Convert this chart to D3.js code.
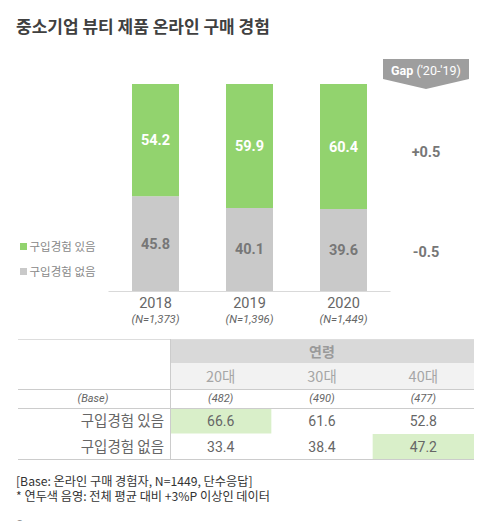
<!DOCTYPE html>
<html><head><meta charset="utf-8">
<script src="https://cdn.jsdelivr.net/npm/d3@7"></script>
<style>
body{margin:0;background:#fff;}
svg{display:block;font-family:Roboto,"Noto Sans CJK KR",sans-serif;}
.kr{font-family:"Noto Sans CJK KR",Roboto,sans-serif;}
</style></head>
<body>
<script>
// ---- data ----
const years = ["2018", "2019", "2020"];
const sampleN = ["(N=1,373)", "(N=1,396)", "(N=1,449)"];
const seriesNames = ["구입경험 있음", "구입경험 없음"];
const yesValues = [54.2, 59.9, 60.4];
const noValues = [45.8, 40.1, 39.6];
const gapLabels = ["+0.5", "-0.5"];
const gapTitle = "('20-'19)";
const ageGroups = ["20대", "30대", "40대"];
const ageBases = ["(482)", "(490)", "(477)"];
const tableYes = [66.6, 61.6, 52.8];
const tableNo = [33.4, 38.4, 47.2];
const highlightYes = [true, false, false];
const highlightNo = [false, false, true];
const footnotes = ["[Base: 온라인 구매 경험자, N=1449, 단수응답]", "* 연두색 음영: 전체 평균 대비 +3%P 이상인 데이터"];

const W = 500, H = 521;
const GREEN = "#92d36e", GRAY = "#c9c9c9";
const svg = d3.select("body").append("svg").attr("width", W).attr("height", H);

// title
svg.append("text").attr("class","kr").attr("x",16).attr("y",33)
  .attr("font-size",17).attr("font-weight",700).attr("fill","#404040")
  .text("중소기업 뷰티 제품 온라인 구매 경험");

// scales
const x = d3.scaleBand().domain(years).range([108.5, 390.5]).paddingInner(0.5).paddingOuter(0.25);
const y = d3.scaleLinear().domain([0, 100]).range([291, 84]);

const stackData = years.map((yr, i) => ({year: yr, yes: yesValues[i], no: noValues[i]}));
const stack = d3.stack().keys(["no", "yes"])(stackData);
const colors = {no: GRAY, yes: GREEN};

const g = svg.append("g");
stack.forEach(layer => {
  g.selectAll(null).data(layer).join("rect")
    .attr("x", d => x(d.data.year)).attr("width", x.bandwidth())
    .attr("y", d => y(d[1])).attr("height", d => y(d[0]) - y(d[1]))
    .attr("fill", colors[layer.key]);
  g.selectAll(null).data(layer).join("text")
    .attr("x", d => x(d.data.year) + x.bandwidth()/2)
    .attr("y", d => (y(d[0]) + y(d[1]))/2 + 5)
    .attr("text-anchor","middle").attr("font-size",14.5).attr("font-weight",700)
    .attr("fill", layer.key === "yes" ? "#fff" : "#777")
    .text(d => (d[1]-d[0]).toFixed(1));
});

// axis baseline + year labels
const xAxis = d3.axisBottom(x).tickSize(0).tickPadding(7);
const ax = svg.append("g").attr("transform","translate(0,291)").call(xAxis);
ax.select(".domain").attr("stroke","#d9d9d9").attr("d","M108.5,0.5H390.5");
ax.selectAll(".tick text").attr("font-size",14.5).attr("fill","#666").attr("font-family","Roboto,sans-serif");
svg.selectAll(null).data(years).join("text")
  .attr("x", d => x(d) + x.bandwidth()/2).attr("y", 323)
  .attr("text-anchor","middle").attr("font-size",11.3).attr("font-style","italic").attr("fill","#666")
  .text((d,i) => sampleN[i]);

// legend
seriesNames.forEach((nm, i) => {
  const ly = 247 + i*25;
  svg.append("rect").attr("x",20).attr("y",ly-4).attr("width",7).attr("height",7).attr("fill", i===0?GREEN:GRAY);
  svg.append("text").attr("class","kr").attr("x",29.5).attr("y",ly+4).attr("font-size",11.5).attr("fill","#888").text(nm);
});

// gap badge
const gx0 = 383, gx1 = 469, gy0 = 59, gy1 = 79, gtip = 89;
svg.append("path").attr("d", `M${gx0},${gy0}H${gx1}V${gy1}L${(gx0+gx1)/2},${gtip}L${gx0},${gy1}Z`).attr("fill","#9e9e9e");
const gt = svg.append("text").attr("x",(gx0+gx1)/2).attr("y",75).attr("text-anchor","middle").attr("font-size",12.5).attr("fill","#fff");
gt.append("tspan").attr("font-weight",700).text("Gap ");
gt.append("tspan").text(gapTitle);
const last = stackData.length - 1;
const gapYs = [(y(noValues[last]) + y(100))/2 + 5, (y(0) + y(noValues[last]))/2 + 2];
gapLabels.forEach((t, i) => {
  svg.append("text").attr("x",426).attr("y",gapYs[i]+5).attr("text-anchor","middle")
    .attr("font-size",14.5).attr("font-weight",700).attr("fill","#777").text(t);
});

// separator
svg.append("line").attr("x1",18).attr("x2",474).attr("y1",339.5).attr("y2",339.5).attr("stroke","#ddd");

// table
const colX = d3.scaleBand().domain(ageGroups).range([170, 474]);
const tL = 18, tR = 474;
svg.append("rect").attr("x",170).attr("y",340).attr("width",304).attr("height",23).attr("fill","#d9d9d9");
svg.append("rect").attr("x",170).attr("y",363).attr("width",304).attr("height",26).attr("fill","#f2f2f2");
svg.append("text").attr("class","kr").attr("x",322).attr("y",357).attr("text-anchor","middle")
  .attr("font-size",14).attr("font-weight",700).attr("fill","#9a9a9a").text("연령");
ageGroups.forEach((a, i) => {
  svg.append("text").attr("class","kr").attr("x",colX(a)+colX.bandwidth()/2).attr("y",382).attr("text-anchor","middle")
    .attr("font-size",14.5).attr("fill","#a6a6a6").text(a);
  svg.append("text").attr("x",colX(a)+colX.bandwidth()/2).attr("y",402).attr("text-anchor","middle")
    .attr("font-size",11).attr("font-style","italic").attr("fill","#666").text(ageBases[i]);
});
svg.append("text").attr("x",93).attr("y",402).attr("text-anchor","middle")
  .attr("font-size",11).attr("font-style","italic").attr("fill","#666").text("(Base)");

const rows = [{name: seriesNames[0], vals: tableYes, hl: highlightYes, y0: 408},
              {name: seriesNames[1], vals: tableNo, hl: highlightNo, y0: 434}];
rows.forEach(r => {
  r.vals.forEach((v, i) => {
    if (r.hl[i]) svg.append("rect").attr("x",colX(ageGroups[i])).attr("y",r.y0).attr("width",colX.bandwidth()).attr("height",25.5).attr("fill","#d9efc9");
    svg.append("text").attr("x",colX(ageGroups[i])+colX.bandwidth()/2).attr("y",r.y0+18).attr("text-anchor","middle")
      .attr("font-size",14).attr("fill","#666").text(v.toFixed(1));
  });
  svg.append("text").attr("class","kr").attr("x",164).attr("y",r.y0+18).attr("text-anchor","end")
    .attr("font-size",14.5).attr("fill","#666").text(r.name);
});
[389.5, 408.5, 459.5].forEach(ly => svg.append("line").attr("x1",tL).attr("x2",tR).attr("y1",ly).attr("y2",ly).attr("stroke","#ccc"));
svg.append("line").attr("x1",170.5).attr("x2",170.5).attr("y1",339).attr("y2",460).attr("stroke","#ccc");

// footnotes
footnotes.forEach((f, i) => {
  svg.append("text").attr("class","kr").attr("x",16).attr("y",485.5 + i*15).attr("font-size",12.2).attr("fill","#333").text(f);
});
svg.append("text").attr("x",15).attr("y",530).attr("font-size",12).attr("fill","#777").text("©");
</script>
</body></html>
